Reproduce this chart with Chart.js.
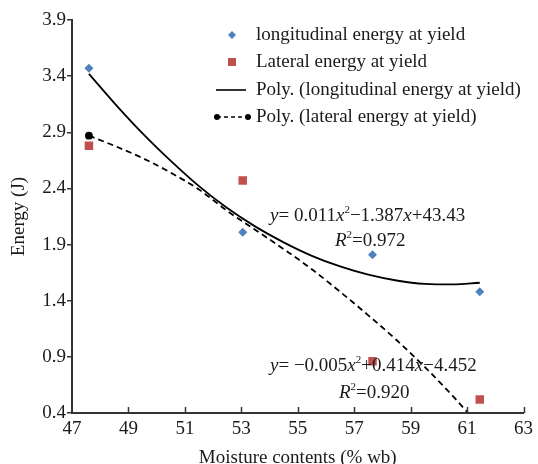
<!DOCTYPE html>
<html>
<head>
<meta charset="utf-8">
<script src="https://cdn.jsdelivr.net/npm/chart.js@4/dist/chart.umd.min.js"></script>
<style>
  html, body { margin: 0; padding: 0; background: #ffffff; }
  #wrap { position: relative; width: 538px; height: 464px; }
</style>
</head>
<body>
<div id="wrap"><canvas id="c" width="538" height="464"></canvas></div>
<script>
// ---- data ----
const moisture = [47.6, 53.05, 57.65, 61.45];
const longitudinalEnergy = [3.47, 2.01, 1.81, 1.48];
const lateralEnergy = [2.78, 2.47, 0.86, 0.52];

const trendLongX = [47.6, 48.5, 49.5, 50.5, 51.5, 52.5, 53.5, 54.5, 55.5, 56.5, 57.5, 58.5, 59.5, 60.5, 61.45];
const trendLongY = [3.42, 3.16, 2.89, 2.645, 2.42, 2.225, 2.06, 1.92, 1.80, 1.705, 1.632, 1.58, 1.55, 1.545, 1.56];
const trendLatX = [47.6, 48.5, 49.5, 50.5, 51.5, 52.5, 53.5, 54.5, 55.5, 56.5, 57.5, 58.5, 59.5, 60.5, 61.0];
const trendLatY = [2.87, 2.78, 2.67, 2.54, 2.39, 2.20, 2.03, 1.86, 1.68, 1.48, 1.27, 1.05, 0.81, 0.55, 0.41];

const xTicks = [47, 49, 51, 53, 55, 57, 59, 61, 63];
const yTicks = [0.4, 0.9, 1.4, 1.9, 2.4, 2.9, 3.4, 3.9];

const legendLabels = [
  'longitudinal energy at yield',
  'Lateral energy at yield',
  'Poly. (longitudinal energy at yield)',
  'Poly. (lateral energy at yield)'
];
const eq1 = [['y', 'i'], ['= 0.011', 'n'], ['x', 'i'], ['2', 's'], ['\u22121.387', 'n'], ['x', 'i'], ['+43.43', 'n']];
const r1 = [['R', 'i'], ['2', 's'], ['=0.972', 'n']];
const eq2 = [['y', 'i'], ['= \u22120.005', 'n'], ['x', 'i'], ['2', 's'], ['+0.414', 'n'], ['x', 'i'], ['\u22124.452', 'n']];
const r2 = [['R', 'i'], ['2', 's'], ['=0.920', 'n']];

const BLUE = '#4f81bd';
const RED = '#c0504d';
const AXIS = '#333333';
const FONT = "'Liberation Serif', 'Times New Roman', serif";

function pts(xs, ys) { return xs.map((x, i) => ({ x: x, y: ys[i] })); }

function drawRich(ctx, parts, x, y, size) {
  let cx = x;
  ctx.textBaseline = 'alphabetic';
  ctx.textAlign = 'left';
  for (const [t, st] of parts) {
    if (st === 's') {
      ctx.font = `${Math.round(size * 0.6)}px ${FONT}`;
      ctx.fillText(t, cx, y - size * 0.42);
    } else {
      ctx.font = `${st === 'i' ? 'italic ' : ''}${size}px ${FONT}`;
      ctx.fillText(t, cx, y);
    }
    cx += ctx.measureText(t).width;
  }
}

const extras = {
  id: 'extras',
  afterDraw(chart) {
    const ctx = chart.ctx;
    const xs = chart.scales.x, ys = chart.scales.y;
    ctx.save();
    // inward x ticks
    ctx.strokeStyle = AXIS;
    ctx.lineWidth = 1.5;
    const yb = ys.getPixelForValue(yTicks[0]);
    xTicks.slice(1).forEach(v => {
      const px = Math.round(xs.getPixelForValue(v)) + 0.5;
      ctx.beginPath(); ctx.moveTo(px, yb); ctx.lineTo(px, yb - 6); ctx.stroke();
    });

    // legend
    const ly = [35, 62, 90, 117];
    const mx = 232;
    ctx.fillStyle = BLUE;
    ctx.beginPath();
    ctx.moveTo(mx, ly[0] - 4); ctx.lineTo(mx + 4, ly[0]); ctx.lineTo(mx, ly[0] + 4); ctx.lineTo(mx - 4, ly[0]);
    ctx.closePath(); ctx.fill();
    ctx.fillStyle = RED;
    ctx.fillRect(mx - 4, ly[1] - 4, 8, 8);
    ctx.strokeStyle = '#000'; ctx.lineWidth = 1.6;
    ctx.beginPath(); ctx.moveTo(216, ly[2]); ctx.lineTo(246, ly[2]); ctx.stroke();
    ctx.setLineDash([4, 3]);
    ctx.beginPath(); ctx.moveTo(217, ly[3]); ctx.lineTo(248, ly[3]); ctx.stroke();
    ctx.setLineDash([]);
    ctx.fillStyle = '#000';
    [217, 248].forEach(x => { ctx.beginPath(); ctx.arc(x, ly[3], 3, 0, Math.PI * 2); ctx.fill(); });
    ctx.fillStyle = '#1a1a1a';
    ctx.font = `19px ${FONT}`;
    ctx.textBaseline = 'middle';
    ctx.textAlign = 'left';
    legendLabels.forEach((t, i) => ctx.fillText(t, 256, ly[i]));

    // equations
    ctx.fillStyle = '#1a1a1a';
    drawRich(ctx, eq1, 270, 221, 19);
    drawRich(ctx, r1, 335, 246, 19);
    drawRich(ctx, eq2, 270, 371, 19);
    drawRich(ctx, r2, 339, 398, 19);
    ctx.restore();
  }
};

new Chart(document.getElementById('c'), {
  type: 'scatter',
  data: {
    datasets: [
      {
        label: legendLabels[2],
        data: pts(trendLongX, trendLongY),
        showLine: true, borderColor: '#000', borderWidth: 1.8,
        pointRadius: 0, cubicInterpolationMode: 'monotone', fill: false
      },
      {
        label: legendLabels[3],
        data: pts(trendLatX, trendLatY),
        showLine: true, borderColor: '#000', borderWidth: 1.8, borderDash: [6, 4],
        pointRadius: trendLatX.map((v, i) => i === 0 ? 3 : 0),
        pointBackgroundColor: '#000', pointBorderColor: '#000',
        cubicInterpolationMode: 'monotone', fill: false
      },
      {
        label: legendLabels[0],
        data: pts(moisture, longitudinalEnergy),
        pointStyle: 'rectRot', pointRadius: 4.5,
        backgroundColor: BLUE, borderColor: BLUE, borderWidth: 0
      },
      {
        label: legendLabels[1],
        data: pts(moisture, lateralEnergy),
        pointStyle: 'rect', pointRadius: 6,
        backgroundColor: RED, borderColor: RED, borderWidth: 0
      }
    ]
  },
  options: {
    responsive: false,
    animation: false,
    layout: { padding: { top: 20, right: 11, left: 0, bottom: 0 } },
    plugins: { legend: { display: false }, tooltip: { enabled: false } },
    scales: {
      x: {
        type: 'linear', min: 47, max: 63,
        afterBuildTicks: s => { s.ticks = xTicks.map(v => ({ value: v })); },
        afterFit: s => { s.height = 51; },
        grid: { display: true, drawOnChartArea: false, drawTicks: false },
        border: { display: true, color: AXIS, width: 2 },
        ticks: { color: '#1a1a1a', font: { family: FONT, size: 19 }, padding: 5, maxRotation: 0, autoSkip: false },
        title: { display: true, text: 'Moisture contents (% wb)', color: '#1a1a1a', font: { family: FONT, size: 19, lineHeight: 0.6 }, padding: 0 }
      },
      y: {
        type: 'linear', min: 0.4, max: 3.9,
        afterBuildTicks: s => { s.ticks = yTicks.map(v => ({ value: v })); },
        afterFit: s => { s.width = 72; },
        grid: { display: true, drawOnChartArea: false, drawTicks: true, tickLength: 5, color: AXIS, lineWidth: 1.5 },
        border: { display: true, color: AXIS, width: 2 },
        ticks: { color: '#1a1a1a', font: { family: FONT, size: 19 }, padding: 1, callback: v => Number(v).toFixed(1), autoSkip: false },
        title: { display: true, text: 'Energy (J)', color: '#1a1a1a', font: { family: FONT, size: 19, lineHeight: 1 }, padding: { top: 10, bottom: 0 } }
      }
    }
  },
  plugins: [extras]
});
</script>
</body>
</html>
